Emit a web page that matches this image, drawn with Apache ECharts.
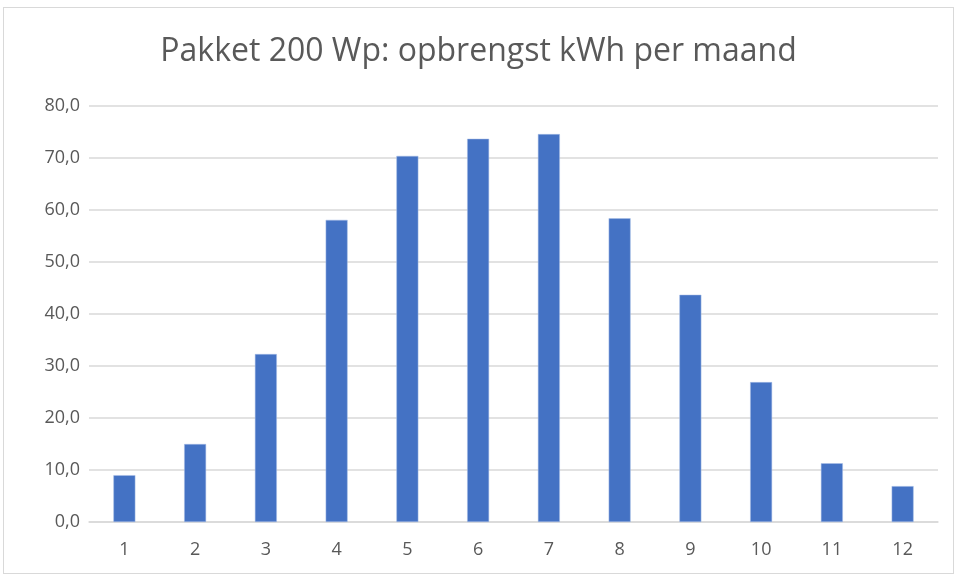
<!DOCTYPE html>
<html><head><meta charset="utf-8">
<script src="https://cdn.jsdelivr.net/npm/echarts@6/dist/echarts.min.js"></script>
<style>
html,body{margin:0;padding:0;background:#fff;}
#frame{position:absolute;left:3px;top:7px;width:951px;height:567px;border:1px solid #d9d9d9;box-sizing:border-box;}
#c{position:absolute;left:0;top:0;width:957px;height:578px;}
</style></head>
<body>
<div id="frame"></div>
<div id="c"></div>
<script>
const titleText = 'Pakket 200 Wp: opbrengst kWh per maand';
const categories = ['1','2','3','4','5','6','7','8','9','10','11','12'];
const values = [9.0, 15.0, 32.3, 58.1, 70.4, 73.7, 74.6, 58.4, 43.7, 26.9, 11.3, 6.9];
const yTicks = [0, 10, 20, 30, 40, 50, 60, 70, 80];

const chart = echarts.init(document.getElementById('c'), null, {renderer:'canvas'});
chart.setOption({
  animation:false,
  backgroundColor:'transparent',
  title:{text:titleText,left:'center',top:31,
    textStyle:{fontFamily:'Open Sans',fontWeight:'normal',fontSize:32,color:'#595959'}},
  grid:{left:89,right:19,top:106,bottom:56,containLabel:false},
  xAxis:{type:'category',data:categories,
    axisLine:{show:true,lineStyle:{color:'#d9d9d9',width:1.5}},
    axisTick:{show:false},
    axisLabel:{color:'#595959',fontFamily:'Open Sans',fontSize:18,margin:19}},
  yAxis:{type:'value',min:yTicks[0],max:yTicks[yTicks.length-1],interval:10,
    axisLine:{show:false},axisTick:{show:false},
    splitLine:{lineStyle:{color:'#d9d9d9',width:1.5}},
    axisLabel:{color:'#595959',fontFamily:'Open Sans',fontSize:18,margin:9,
      formatter:v=>v.toFixed(1).replace('.',',')}},
  series:[{type:'bar',data:values,barWidth:'31%',
    itemStyle:{color:'#4472c4',borderColor:'#a9bfe6',borderWidth:0.5}}]
});
</script>
</body></html>
